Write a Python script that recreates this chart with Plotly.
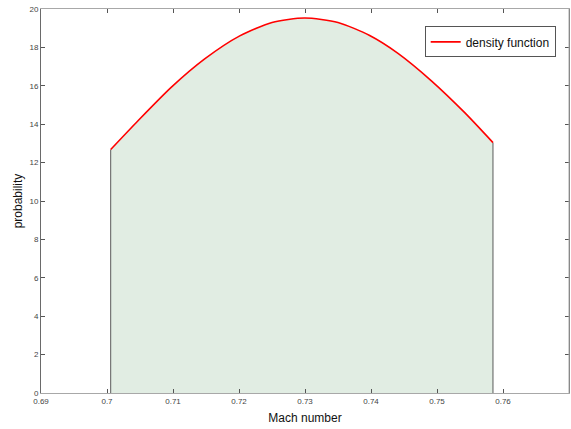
import plotly.graph_objects as go

# Mach number samples along the density curve and the density at each
mach = [0.70056, 0.70470, 0.70976, 0.71480, 0.72011, 0.72500, 0.72995,
        0.73500, 0.73980, 0.74409, 0.74915, 0.75420, 0.75848]
density = [12.68, 14.18, 15.93, 17.40, 18.60, 19.30, 19.53,
           19.30, 18.62, 17.69, 16.26, 14.60, 13.04]

x_ticks = [0.69, 0.70, 0.71, 0.72, 0.73, 0.74, 0.75, 0.76, 0.77]
x_tick_text = ["0.69", "0.7", "0.71", "0.72", "0.73", "0.74", "0.75", "0.76", "0.77"]
y_ticks = list(range(0, 21, 2))

fig = go.Figure()

# shaded area under the density curve
fig.add_trace(go.Scatter(
    x=mach, y=density, mode="lines", fill="tozeroy",
    fillcolor="#e1ede3", line=dict(color="rgba(0,0,0,0)", width=0, shape="spline", smoothing=0.7),
    showlegend=False, hoverinfo="skip"))

# vertical edges of the shaded region
for xe, ye in [(mach[0], density[0]), (mach[-1], density[-1])]:
    fig.add_trace(go.Scatter(
        x=[xe, xe], y=[0, ye], mode="lines",
        line=dict(color="#5a5a5a", width=1), showlegend=False, hoverinfo="skip"))

# density curve
fig.add_trace(go.Scatter(
    x=mach, y=density, mode="lines", name="density function",
    line=dict(color="#ff0000", width=1.6, shape="spline", smoothing=0.7)))

axis_font = dict(family="Liberation Sans, Arial, sans-serif", size=8, color="#444444")
title_font = dict(family="Liberation Sans, Arial, sans-serif", size=12, color="#111111")

fig.update_layout(
    width=571, height=429,
    margin=dict(l=41, r=2, t=9, b=36),
    paper_bgcolor="white", plot_bgcolor="white",
    showlegend=True,
    legend=dict(
        x=0.7267, y=0.9547, xanchor="left", yanchor="top",
        bgcolor="white", bordercolor="#555555", borderwidth=1,
        font=dict(family="Liberation Sans, Arial, sans-serif", size=12, color="#111111"),
        tracegroupgap=0),
    xaxis=dict(
        range=[0.69, 0.77], tickvals=x_ticks, ticktext=x_tick_text,
        ticks="inside", ticklen=4, tickcolor="#555555",
        showline=True, linecolor="#a8a8a8", linewidth=1, mirror="ticks",
        showgrid=False, zeroline=False, tickfont=axis_font,
        title=dict(text="Mach number", font=title_font, standoff=9)),
    yaxis=dict(
        range=[0, 20], tickvals=y_ticks,
        ticks="inside", ticklen=4, tickcolor="#555555",
        showline=True, linecolor="#6a6a6a", linewidth=1, mirror="ticks",
        showgrid=False, zeroline=False, tickfont=axis_font,
        title=dict(text="probability", font=title_font, standoff=4)),
    shapes=[dict(type="line", xref="paper", yref="paper", x0=1, x1=1, y0=0, y1=1,
                 line=dict(color="#a8a8a8", width=1), layer="above")],
)

fig.write_html("out.html")
